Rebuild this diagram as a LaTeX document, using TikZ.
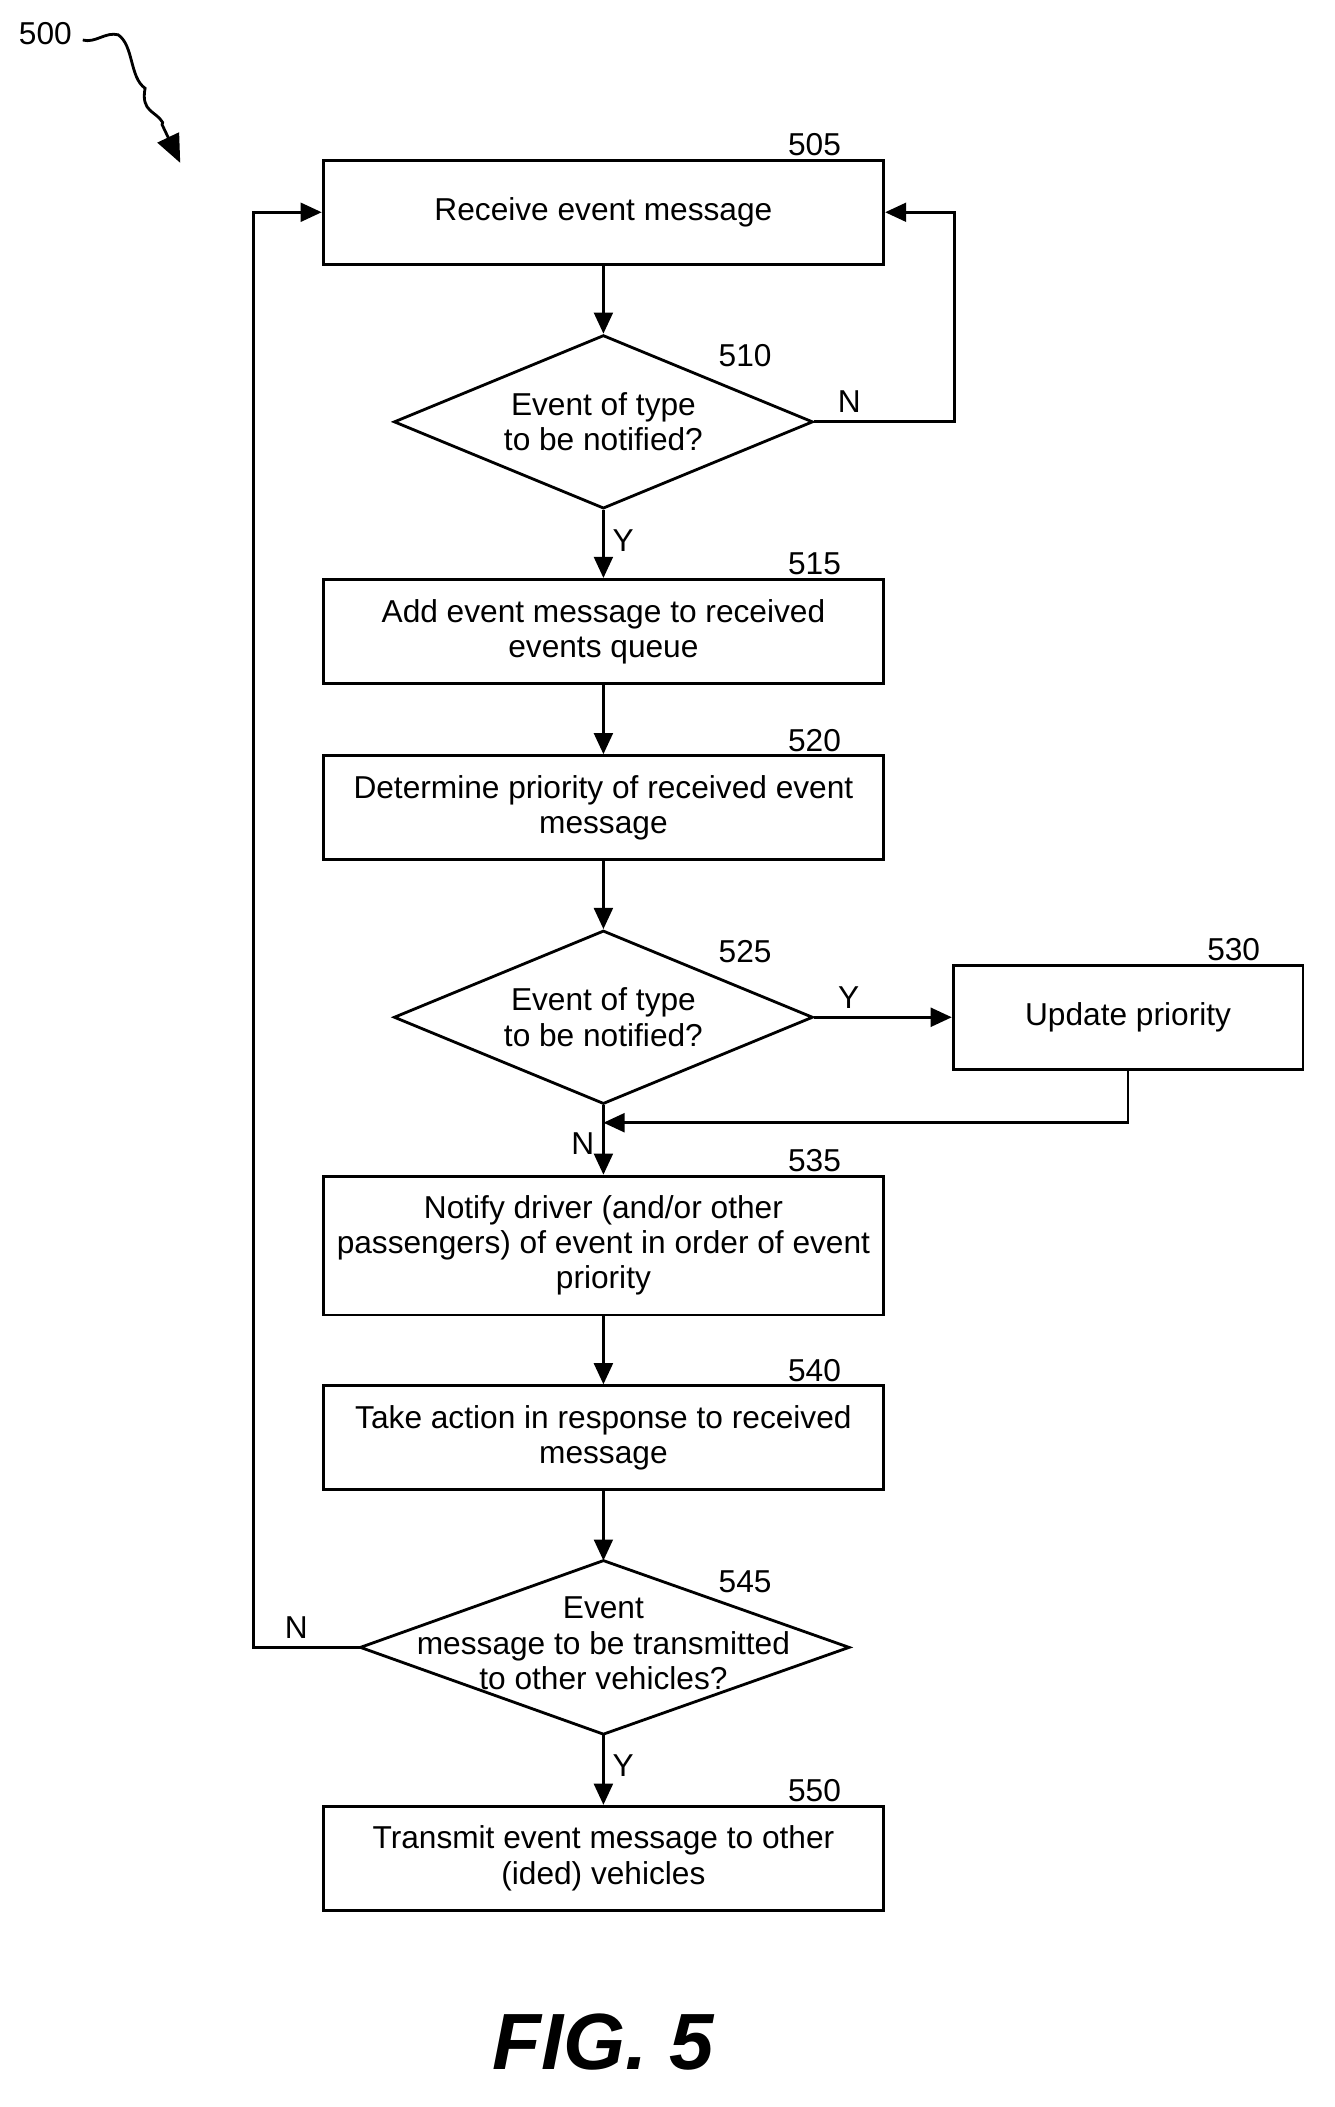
\documentclass[tikz,border=0pt]{standalone}
\usepackage{fontspec}
\setmainfont{Liberation Sans}
\usetikzlibrary{shapes.geometric,decorations.pathmorphing,arrows.meta}

\tikzset{
  stepbox/.style={draw,line width=1.2pt,minimum width=8.4cm,minimum height=1.56cm,align=center,inner sep=2pt,font=\fontsize{13.5}{15}\selectfont},
  test/.style={draw,diamond,line width=1.2pt,minimum width=6.28cm,minimum height=2.6cm,aspect=2.4,inner sep=0pt,align=center,font=\fontsize{13.5}{15}\selectfont},
  flow/.style={line width=1.2pt,-{Triangle[length=9pt,width=8pt]}},
  tag/.style={font=\fontsize{13.5}{15}\selectfont,anchor=south east,inner sep=1pt},
  yn/.style={font=\fontsize{13.5}{15}\selectfont},
}

\begin{document}
\begin{tikzpicture}[x=0.02cm,y=-0.02cm]
  \useasboundingbox (0,0) rectangle (1000,1578.3);

  % steps
  \node[stepbox] (s505) at (452,159) {Receive event message};
  \node[test] (s510) at (452,316) {Event of type\\to be notified?};
  \node[stepbox] (s515) at (452,473) {Add event message to received\\events queue};
  \node[stepbox] (s520) at (452,605) {Determine priority of received event\\message};
  \node[test] (s525) at (452,762) {Event of type\\to be notified?};
  \node[stepbox,minimum width=5.24cm] (s530) at (845,762) {Update priority};
  \node[stepbox,minimum height=2.08cm] (s535) at (452,933) {Notify driver (and/or other\\passengers) of event in order of event\\priority};
  \node[stepbox] (s540) at (452,1077) {Take action in response to received\\message};
  % wide diamond drawn by hand
  \coordinate (d545n) at (452,1169);
  \coordinate (d545e) at (636,1234);
  \coordinate (d545s) at (452,1299);
  \coordinate (d545w) at (270,1234);
  \draw[line width=1.2pt] (d545n) -- (d545e) -- (d545s) -- (d545w) -- cycle;
  \node[yn,align=center,inner sep=0pt] (s545) at (452,1231) {Event\\message to be transmitted\\to other vehicles?};
  \node[stepbox] (s550) at (452,1392) {Transmit event message to other\\(ided) vehicles};

  % reference numbers
  \node[tag] at (632,119) {505};
  \node[tag] at (580,277) {510};
  \node[tag] at (632,433) {515};
  \node[tag] at (632,565) {520};
  \node[tag] at (580,723) {525};
  \node[tag] at (946,722) {530};
  \node[tag] at (632,880) {535};
  \node[tag] at (632,1037) {540};
  \node[tag] at (580,1195) {545};
  \node[tag] at (632,1352) {550};

  % connectors
  \draw[flow] (s505) -- (s510);
  \draw[flow] (s510) -- node[right,pos=0.45,yn] {Y} (s515);
  \draw[flow] (s510.east) -- node[above,pos=0.25,yn] {N} (715,316) |- (s505.east);
  \draw[flow] (s515) -- (s520);
  \draw[flow] (s520) -- (s525);
  \draw[flow] (s525.east) -- node[above,pos=0.25,yn] {Y} (s530.west);
  \draw[flow] (s530.south) |- (452,841);
  \draw[flow] (s525) -- node[left,pos=0.55,yn] {N} (s535);
  \draw[flow] (s535) -- (s540);
  \draw[flow] (s540) -- (d545n);
  \draw[flow] (d545w) -- node[above,pos=0.6,yn] {N} (190,1234) |- (s505.west);
  \draw[flow] (d545s) -- node[right,pos=0.45,yn] {Y} (s550);

  % figure number
  \node[yn] (n500) at (34,25) {500};
  \draw[line width=1.2pt,-{Triangle[length=12pt,width=10pt]},decorate,decoration={snake,amplitude=6pt,segment length=45pt,post length=18pt}] (62,30) .. controls (100,40) and (110,70) .. (135,122);
  \node[font=\bfseries\itshape\fontsize{34}{40}\selectfont] (fig) at (452,1530) {FIG. 5};
\end{tikzpicture}
\end{document}
